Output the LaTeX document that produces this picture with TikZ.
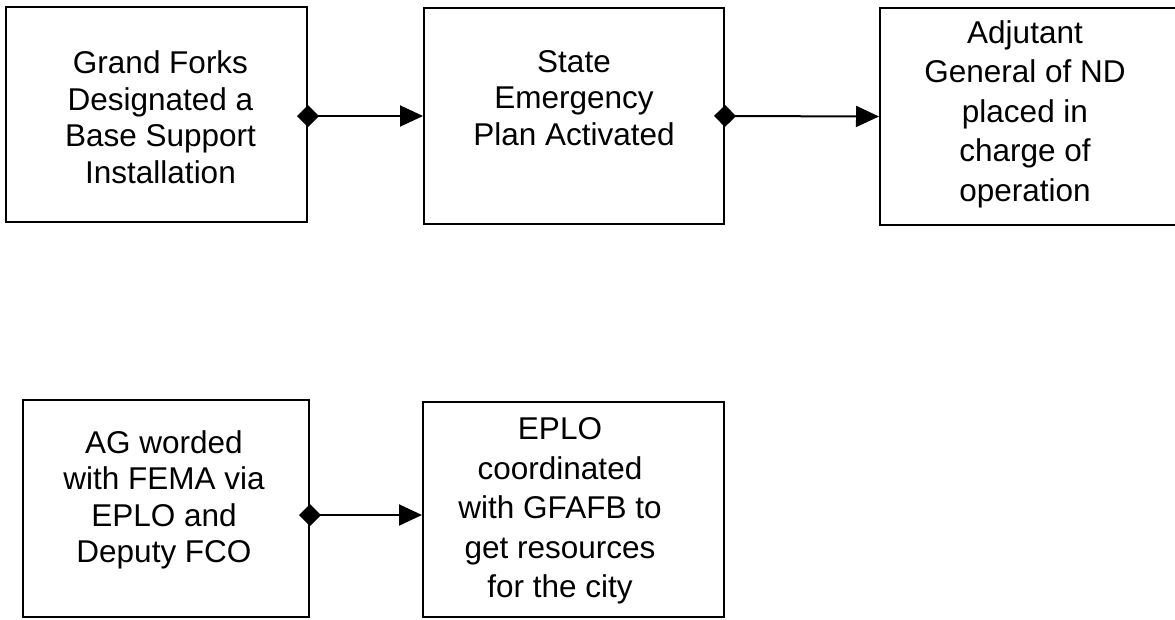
\documentclass[tikz,border=0pt]{standalone}
\usepackage{fontspec}
\setmainfont{Liberation Sans}
\usetikzlibrary{arrows.meta}
\tikzset{
  box/.style={draw=black, line width=2pt, inner sep=0pt},
  txt/.style={align=center, inner sep=0pt, font=\fontsize{31.5}{36.5}\selectfont},
  txtw/.style={align=center, inner sep=0pt, font=\fontsize{31.5}{39.5}\selectfont},
  conn/.style={line width=2pt, {Diamond[length=22pt,width=22pt]}-{Triangle[length=23pt,width=21pt]}, shorten <=-11pt}
}
\begin{document}
\begin{tikzpicture}[x=1pt,y=-1pt]
\useasboundingbox (0,0) rectangle (1175,619);
\clip (0,0) rectangle (1175,619);
\fill[white] (0,0) rectangle (1175,619);
\node[box, minimum width=301pt, minimum height=215pt] (b1) at (156.5,114.5) {};
\node[box, minimum width=300pt, minimum height=216pt] (b2) at (574,116) {};
\node[box, minimum width=310pt, minimum height=217pt] (b3) at (1035,116.5) {};
\node[box, minimum width=286pt, minimum height=217pt] (b4) at (166,508.5) {};
\node[box, minimum width=301pt, minimum height=215pt] (b5) at (573.5,509.5) {};
\node[txt] (t1) at (160.5,117) {Grand Forks\\Designated a\\Base Support\\Installation};
\node[txt] (t2) at (574,98) {State\\Emergency\\Plan Activated};
\node[txtw] (t3) at (1025,114) {Adjutant\\General of ND\\placed in\\charge of\\operation};
\node[txt] (t4) at (164,500) {AG worded\\with FEMA via\\EPLO and\\Deputy FCO};
\node[txtw] (t5) at (560,511) {EPLO\\coordinated\\with GFAFB to\\get resources\\for the city};
\draw[conn] (b1.east |- b2.west) -- (b2.west);
\draw[conn] (b2.east) -- (b3.west);
\draw[conn] ([yshift=-6.5pt]b4.east) -- ([yshift=-5.5pt]b5.west);
\end{tikzpicture}
\end{document}
